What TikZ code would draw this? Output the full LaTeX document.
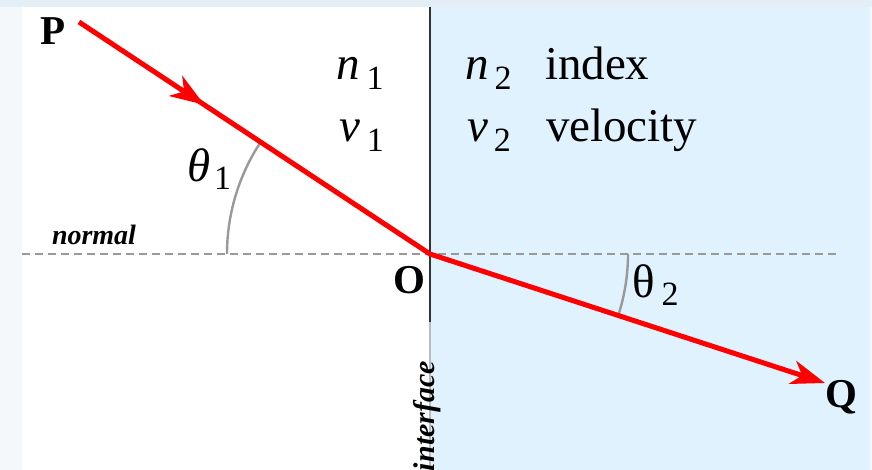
\documentclass[tikz,border=0pt]{standalone}
\usepackage{fontspec}
\setmainfont{Liberation Serif}
\usetikzlibrary{arrows.meta,decorations.markings}
\definecolor{raycol}{HTML}{FF0000}
\definecolor{outerbg}{HTML}{F4F8FB}
\definecolor{topbg}{HTML}{E4EEF6}
\definecolor{bluebg}{HTML}{DFF2FD}
\definecolor{guide}{HTML}{999999}
\definecolor{ifdark}{HTML}{333333}
\definecolor{iflight}{HTML}{BBBBBB}
\newcommand\sublab[4]{#1\hspace{#3}\raisebox{-#4}{\fontsize{34}{34}\selectfont #2}}
\tikzset{
  lbl/.style={inner sep=0pt, outer sep=0pt, anchor=base west, text=black},
  big/.style={lbl, font=\fontsize{47}{47}\selectfont},
  bigbold/.style={lbl, font=\fontsize{41}{41}\selectfont\bfseries},
  small/.style={lbl, font=\fontsize{28}{28}\selectfont\bfseries\itshape},
  rayline/.style={draw=raycol, line width=5pt, line join=round},
  guideline/.style={draw=guide, line width=2.4pt},
}
\begin{document}
\begin{tikzpicture}[x=1pt,y=-1pt]
\useasboundingbox (0,0) rectangle (872,470);
\fill[outerbg] (0,0) rectangle (872,470);
\fill[topbg] (0,0) rectangle (872,7);
\fill[white] (22,7) rectangle (430,470);
\fill[bluebg] (430,7) rectangle (870,470);

% normal line
\draw[guideline, dash pattern=on 8pt off 5pt] (22,254) -- (838,254);
% interface
\draw[draw=ifdark, line width=2.4pt] (430,7) -- (430,322);
\draw[draw=iflight, line width=2.4pt] (430,322) -- (430,470);

% coordinates
\coordinate (Ps) at (79,22);
\coordinate (O) at (430,254);
\coordinate (Qe) at (825,383);

% angle arcs
\draw[guideline] (227,254) arc[start angle=180, end angle=213.5, radius=203];
\draw[guideline] (628,254) arc[start angle=0, end angle=18.1, radius=198];

% ray
\draw[rayline, -{Stealth[length=34pt, width=24pt, inset=10pt]},
  postaction={decorate},
  decoration={markings, mark=at position 150pt with {\arrow[raycol]{Stealth[length=34pt, width=24pt, inset=10pt]}}}]
  (Ps) -- (O) -- (Qe);

% labels
\node[bigbold] (P) at (40,45) {P};
\node[bigbold] (Olab) at (393,293) {O};
\node[bigbold] (Q) at (825,407) {Q};

\node[big] (n1) at (336,80) {\sublab{\textit{n}}{1}{7pt}{10pt}};
\node[big] (v1) at (339,142) {\sublab{\textit{v}}{1}{7pt}{10pt}};
\node[big] (n2) at (465,80) {\sublab{\textit{n}}{2}{6pt}{10pt}};
\node[big] (v2) at (467,142) {\sublab{\textit{v}}{2}{6pt}{10pt}};
\node[big] (idx) at (545,80) {index};
\node[big] (vel) at (546,142) {velocity};

\node[big] (th1) at (187,182) {\sublab{\textit{θ}}{1}{4pt}{8pt}};
\node[big] (th2) at (632,297) {\sublab{θ}{2}{7pt}{8pt}};

\node[small] (normal) at (52,245) {normal};
\node[small, rotate=90, font=\fontsize{30}{30}\selectfont\bfseries\itshape] (iface) at (434,471) {interface};
\end{tikzpicture}
\end{document}
